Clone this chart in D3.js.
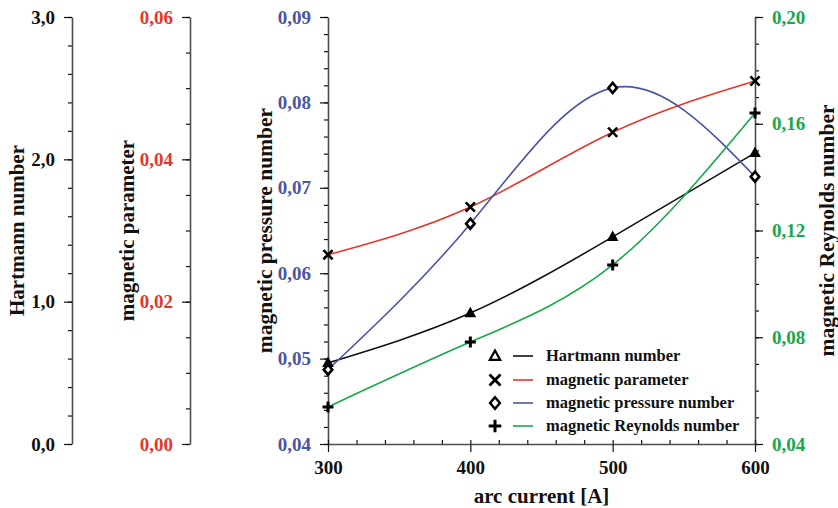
<!DOCTYPE html>
<html><head><meta charset="utf-8">
<script src="https://cdn.jsdelivr.net/npm/d3@7"></script>
<style>
body{margin:0;background:#fff}
svg{display:block}
text{font-family:"Liberation Serif","Times New Roman",serif;font-weight:bold}
</style>
</head><body>
<svg id="c" width="838" height="508"></svg>
<script>
// ---- data ----
const current      = [300, 400, 500, 600];
const hartmann     = [0.57, 0.92, 1.455, 2.045];
const magParam     = [0.0266, 0.0333, 0.0438, 0.0510];
const magPressure  = [0.0487, 0.0658, 0.0817, 0.0713];
const magReynolds  = [0.0539, 0.0782, 0.1071, 0.1640];

const xTicks  = [300, 400, 500, 600];
const hTicks  = [0, 1, 2, 3];
const pTicks  = [0, 0.02, 0.04, 0.06];
const bTicks  = [0.04, 0.05, 0.06, 0.07, 0.08, 0.09];
const gTicks  = [0.04, 0.08, 0.12, 0.16, 0.20];
const seriesNames = ["Hartmann number", "magnetic parameter", "magnetic pressure number", "magnetic Reynolds number"];

// ---- layout ----
const svg = d3.select("#c");
const pTop = 17, pBottom = 444, pLeft = 328, pRight = 755;
const RED = "#e5362a", BLUE = "#4a55a6", GREEN = "#16a84a", AX = "#4d4d4d";
const SERIF = '"Liberation Serif","Times New Roman",serif';

const x  = d3.scaleLinear().domain([300, 600]).range([pLeft, pRight]);
const yH = d3.scaleLinear().domain([0, 3]).range([pBottom, pTop]);
const yP = d3.scaleLinear().domain([0, 0.06]).range([pBottom, pTop]);
const yB = d3.scaleLinear().domain([0.04, 0.09]).range([pBottom, pTop]);
const yG = d3.scaleLinear().domain([0.04, 0.20]).range([pBottom, pTop]);

const comma = d => d.replace(".", ",");
const f1 = v => comma(d3.format(".1f")(v));
const f2 = v => comma(d3.format(".2f")(v));

function styleAxis(g, color, fs) {
  g.attr("font-family", SERIF).attr("font-weight", "bold");
  g.select(".domain").attr("stroke", AX).attr("stroke-width", 1.6);
  g.selectAll(".tick line").attr("stroke", "#111").attr("stroke-width", 1.2);
  g.selectAll("text").attr("fill", color).style("font-size", fs + "px")
    .style("font-family", SERIF).style("font-weight", "bold");
}

function vAxis(xpos, scale, majors, minors, fmt, color, side) {
  const mk = side === "left" ? d3.axisLeft : d3.axisRight;
  svg.append("g").attr("transform", `translate(${xpos},0)`)
    .call(mk(scale).tickValues(minors).tickSize(4).tickFormat("").tickSizeOuter(0))
    .call(g => g.select(".domain").remove())
    .call(g => g.selectAll(".tick line").attr("stroke", "#111").attr("stroke-width", 1.2));
  const g = svg.append("g").attr("transform", `translate(${xpos},0)`)
    .call(mk(scale).tickValues(majors).tickSize(8).tickPadding(9).tickFormat(fmt).tickSizeOuter(0));
  styleAxis(g, color, 19);
}

vAxis(72, yH, hTicks, d3.range(0, 3.001, 0.2), f1, "#111", "left");
vAxis(190, yP, pTicks, d3.range(0, 0.0601, 0.005), f2, RED, "left");
vAxis(pLeft, yB, bTicks, d3.range(0.04, 0.0901, 0.002), f2, BLUE, "left");
vAxis(pRight, yG, gTicks, d3.range(0.04, 0.2001, 0.01), f2, GREEN, "right");

// x axis
svg.append("g").attr("transform", `translate(0,${pBottom})`)
  .call(d3.axisBottom(x).tickValues(d3.range(300, 601, 20)).tickSize(-4).tickFormat("").tickSizeOuter(0))
  .call(g => g.select(".domain").remove())
  .call(g => g.selectAll(".tick line").attr("stroke", "#111").attr("stroke-width", 1.2));
const gx = svg.append("g").attr("transform", `translate(0,${pBottom})`)
  .call(d3.axisBottom(x).tickValues(xTicks).tickSize(8).tickPadding(9).tickFormat(d3.format("d")).tickSizeOuter(0));
styleAxis(gx, "#111", 19);

// axis titles
function vTitle(xc, label, fs) {
  svg.append("text").attr("transform", `translate(${xc},${(pTop + pBottom) / 2}) rotate(-90)`)
    .attr("text-anchor", "middle").attr("dy", "0.35em")
    .style("font-size", fs + "px").attr("fill", "#111").text(label);
}
vTitle(17, "Hartmann number", 21);
vTitle(127, "magnetic parameter", 21);
vTitle(264, "magnetic pressure number", 21.5);
vTitle(826, "magnetic Reynolds number", 21.5);
svg.append("text").attr("x", (pLeft + pRight) / 2).attr("y", 503).attr("text-anchor", "middle")
  .style("font-size", "21px").attr("fill", "#111").text("arc current [A]");

// ---- series ----
const series = [
  {vals: hartmann,    y: yH, color: "#111", mark: "tri"},
  {vals: magParam,    y: yP, color: RED,    mark: "x"},
  {vals: magPressure, y: yB, color: BLUE,   mark: "dia"},
  {vals: magReynolds, y: yG, color: GREEN,  mark: "plus"}
];

function marker(g, type, cx, cy, s, legend) {
  if (type === "tri") {
    const r = legend ? 5.2 : 4.5;
    g.append("path").attr("d", `M${cx},${cy - r*1.05}L${cx + r},${cy + r*0.75}L${cx - r},${cy + r*0.75}Z`)
      .attr("fill", legend ? "none" : "#000").attr("stroke", "#000").attr("stroke-width", legend ? 2.2 : 1.6).attr("stroke-linejoin", "miter");
  } else if (type === "x") {
    const r = legend ? 5.5 : 4.6;
    g.append("path").attr("d", `M${cx - r},${cy - r}L${cx + r},${cy + r}M${cx - r},${cy + r}L${cx + r},${cy - r}`)
      .attr("stroke", "#000").attr("stroke-width", legend ? 2.8 : 2.6).attr("fill", "none");
  } else if (type === "dia") {
    const r = legend ? 5.8 : 5;
    g.append("path").attr("d", `M${cx},${cy - r}L${cx + r*0.85},${cy}L${cx},${cy + r}L${cx - r*0.85},${cy}Z`)
      .attr("stroke", "#000").attr("stroke-width", legend ? 2.4 : 2.6).attr("fill", "#fff");
  } else {
    const r = legend ? 6.3 : 5.5;
    g.append("path").attr("d", `M${cx - r},${cy}L${cx + r},${cy}M${cx},${cy - r}L${cx},${cy + r}`)
      .attr("stroke", "#000").attr("stroke-width", 3).attr("fill", "none");
  }
}

const plot = svg.append("g");
series.forEach(s => {
  const line = d3.line().curve(d3.curveNatural).x((d, i) => x(current[i])).y(d => s.y(d));
  plot.append("path").attr("d", line(s.vals)).attr("fill", "none").attr("stroke", s.color).attr("stroke-width", 1.6);
});
series.forEach(s => {
  s.vals.forEach((v, i) => marker(plot, s.mark, x(current[i]), s.y(v), 1, false));
});

// ---- legend ----
const leg = svg.append("g");
const rowsY = [356, 380, 403, 426];
series.forEach((s, i) => {
  const cy = rowsY[i];
  marker(leg, s.mark, 495, cy, 1, true);
  leg.append("line").attr("x1", 513).attr("x2", 533).attr("y1", cy).attr("y2", cy)
    .attr("stroke", s.color).attr("stroke-width", 1.6);
  leg.append("text").attr("x", 546).attr("y", cy).attr("dy", "0.33em")
    .style("font-size", "16.5px").attr("fill", "#111").text(seriesNames[i]);
});
</script>
</body></html>
